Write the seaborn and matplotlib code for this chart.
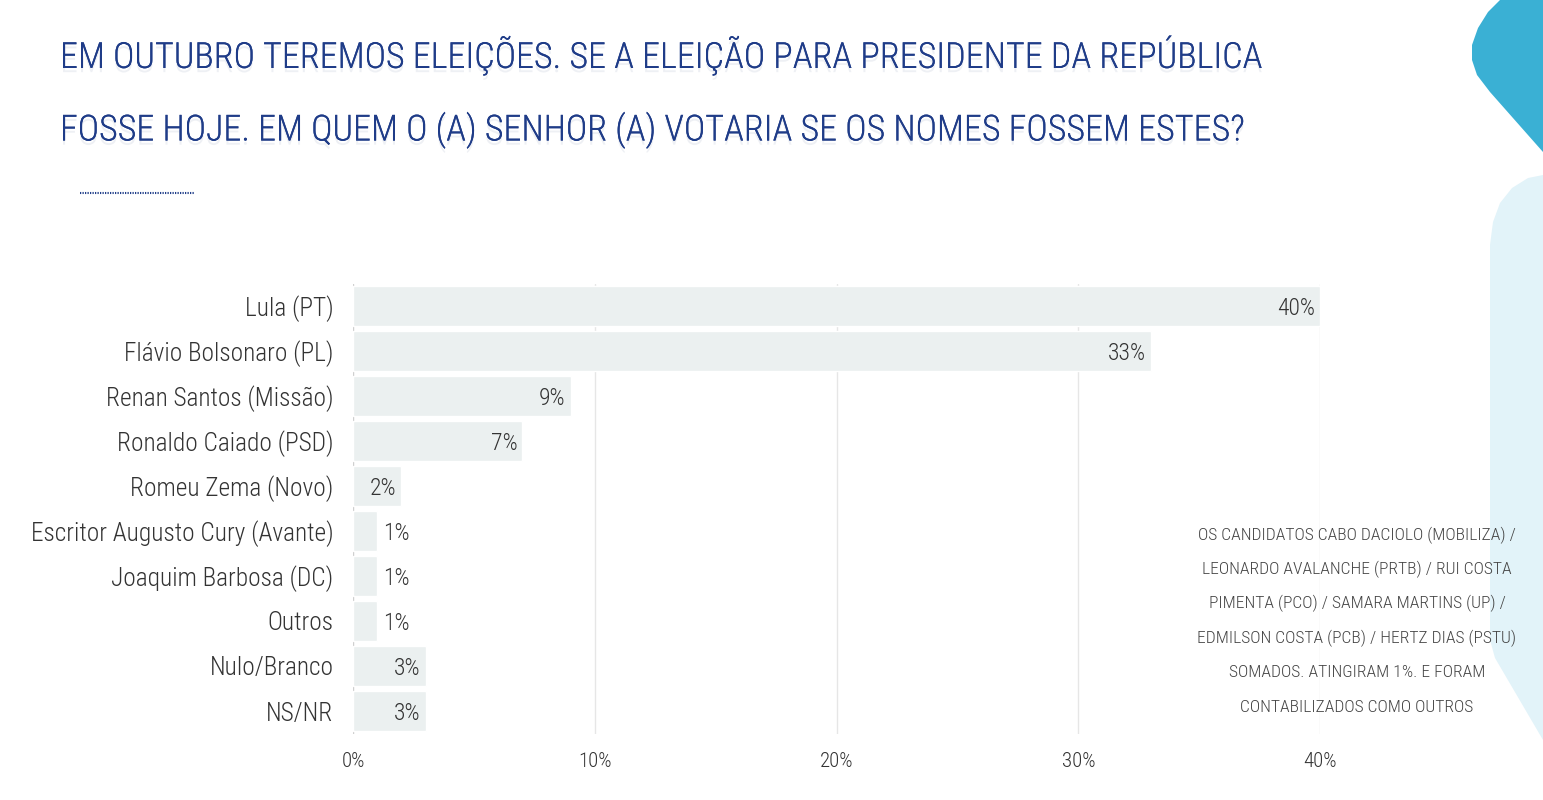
import matplotlib
matplotlib.use("Agg")
import matplotlib.pyplot as plt
import matplotlib.patheffects as pe
from matplotlib.patches import Polygon
import pandas as pd
import seaborn as sns

# data
candidatos = ["Lula (PT)", "Flávio Bolsonaro (PL)", "Renan Santos (Missão)",
              "Ronaldo Caiado (PSD)", "Romeu Zema (Novo)",
              "Escritor Augusto Cury (Avante)", "Joaquim Barbosa (DC)",
              "Outros", "Nulo/Branco", "NS/NR"]
votos = [40, 33, 9, 7, 2, 1, 1, 1, 3, 3]
x_ticks = [0, 10, 20, 30, 40]

titulo = ["EM OUTUBRO TEREMOS ELEIÇÕES. SE A ELEIÇÃO PARA PRESIDENTE DA REPÚBLICA",
          "FOSSE HOJE. EM QUEM O (A) SENHOR (A) VOTARIA SE OS NOMES FOSSEM ESTES?"]
nota = ["OS CANDIDATOS CABO DACIOLO (MOBILIZA) /",
        "LEONARDO AVALANCHE (PRTB) / RUI COSTA",
        "PIMENTA (PCO) / SAMARA MARTINS (UP) /",
        "EDMILSON COSTA (PCB) / HERTZ DIAS (PSTU)",
        "SOMADOS. ATINGIRAM 1%. E FORAM",
        "CONTABILIZADOS COMO OUTROS"]

df = pd.DataFrame({"candidato": candidatos, "votos": votos})

sns.set_theme(style="white")
plt.rcParams["font.family"] = ["Roboto Condensed", "Liberation Sans Narrow", "Roboto", "DejaVu Sans"]
plt.rcParams["font.weight"] = "light"

W, H = 1543, 800
fig = plt.figure(figsize=(W / 100, H / 100), dpi=100)
fig.patch.set_facecolor("white")

def px(pts):
    # pixel coords (from top-left) -> figure fraction
    return [(x / W, 1 - y / H) for x, y in pts]

# decorative shapes on the right side
dark = [(1500, 0), (1488, 12), (1478, 28), (1472, 45), (1472, 60), (1477, 75),
        (1490, 92), (1543, 152), (1543, 0)]
light = [(1543, 175), (1528, 178), (1512, 188), (1500, 203), (1493, 222), (1490, 245),
         (1490, 640), (1495, 658), (1543, 740)]
fig.patches.append(Polygon(px(dark), closed=True, transform=fig.transFigure,
                           fc="#3ab0d4", ec="none", zorder=0))
fig.patches.append(Polygon(px(light), closed=True, transform=fig.transFigure,
                           fc="#e2f3f9", ec="none", zorder=0))

ax = fig.add_axes([353 / W, 1 - 733.5 / H, (1320 - 353) / W, 450 / H])
ax.set_facecolor("none")
sns.barplot(data=df, x="votos", y="candidato", orient="h", color="#ebf0f0",
            width=0.89, saturation=1, ax=ax, zorder=2)

ax.set_xlim(0, 40)
ax.set_ylim(len(candidatos) - 0.5, -0.5)
ax.set_xticks(x_ticks)
ax.set_xticklabels([f"{t}%" for t in x_ticks], fontsize=15, color="#333333")
ax.tick_params(axis="x", pad=13, length=0)
ax.tick_params(axis="y", labelsize=18.3, colors="#333333", length=0, pad=14)
ax.set_xlabel("")
ax.set_ylabel("")
for t in x_ticks[1:]:
    ax.axvline(t, color="#e6e6e6", lw=1, zorder=1)
ax.axvline(0, color="#cfcfcf", lw=1, zorder=1)
sns.despine(ax=ax, left=True, bottom=True)

for i, v in enumerate(votos):
    if v >= 2:
        ax.text(v - 0.2, i, f"{v}%", ha="right", va="center_baseline", fontsize=17, color="#333333", zorder=3)
    else:
        ax.text(v + 0.25, i, f"{v}%", ha="left", va="center_baseline", fontsize=17, color="#333333", zorder=3)

shadow = [pe.withSimplePatchShadow(offset=(0, -3), shadow_rgbFace="#c8cedc", alpha=0.3), pe.Normal()]
for k, linha in enumerate(titulo):
    fig.text(60 / W, 1 - (55 + k * 75) / H, linha, fontsize=26, color="#1f3c88",
             va="center", ha="left", path_effects=shadow)
fig.lines.append(plt.Line2D([80 / W, 195 / W], [1 - 193 / H, 1 - 193 / H], transform=fig.transFigure,
                            color="#1f3c88", lw=1.5, ls=(0, (0.6, 0.6))))

for k, linha in enumerate(nota):
    fig.text(1357 / W, 1 - (535 + k * 34.4) / H, linha, fontsize=12.6, color="#444444",
             ha="center", va="center")

fig.savefig("out.png", dpi=100)
